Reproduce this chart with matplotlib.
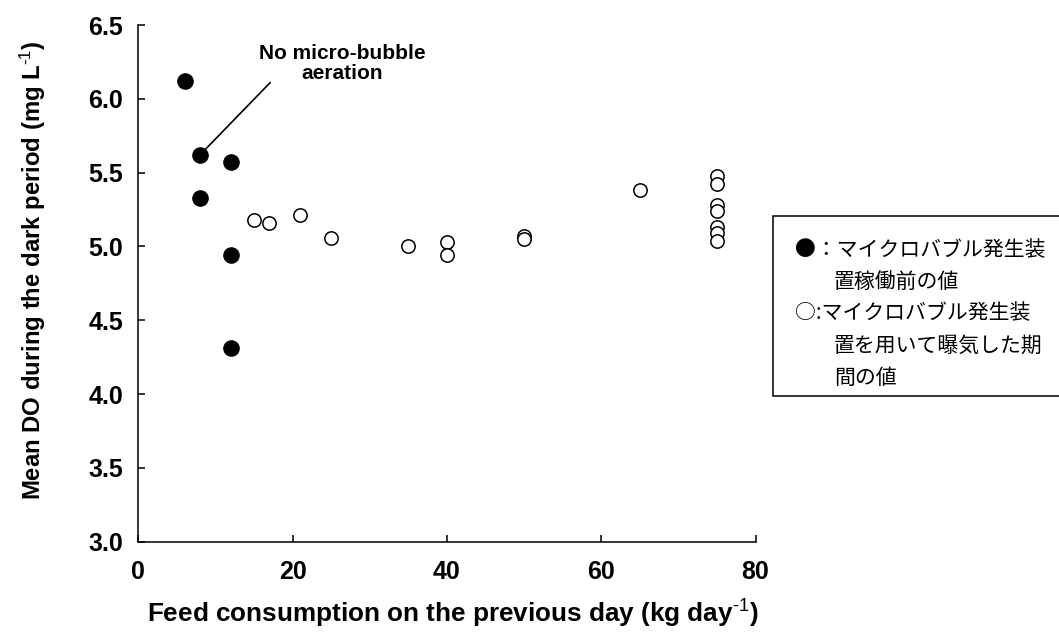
import matplotlib
matplotlib.use('Agg')
import matplotlib.pyplot as plt
from matplotlib.patches import Rectangle

# DO before micro-bubble aeration (filled) and during aeration (open)
before_feed = [6, 8, 8, 12, 12, 12]
before_do = [6.12, 5.62, 5.33, 5.57, 4.94, 4.31]

aerated_feed = [15, 17, 21, 25, 35, 40, 40, 50, 50, 65, 75, 75, 75, 75, 75, 75, 75]
aerated_do = [5.18, 5.16, 5.21, 5.06, 5.00, 5.03, 4.94, 5.07, 5.05, 5.38,
              5.48, 5.42, 5.28, 5.24, 5.13, 5.09, 5.04]

x_ticks = [0, 20, 40, 60, 80]
y_ticks = [3.0, 3.5, 4.0, 4.5, 5.0, 5.5, 6.0, 6.5]

# (indent, text) for each legend row
legend_lines = [
    (False, '●：マイクロバブル発生装'),
    (True, '置稼働前の値'),
    (False, '○:マイクロバブル発生装'),
    (True, '置を用いて曝気した期'),
    (True, '間の値'),
]

plt.rcParams['font.family'] = ['Liberation Sans', 'DejaVu Sans']
plt.rcParams['mathtext.fontset'] = 'custom'
plt.rcParams['mathtext.rm'] = 'Liberation Sans'
plt.rcParams['mathtext.default'] = 'rm'

fig = plt.figure(figsize=(10.59, 6.34), dpi=100)
ax = fig.add_axes([0.1305, 0.1455, 0.583, 0.815])

ax.scatter(before_feed, before_do, s=120, color='black', zorder=3, clip_on=False)
ax.scatter(aerated_feed, aerated_do, s=92, facecolor='white', edgecolor='black',
           linewidth=1.1, zorder=3, clip_on=False)

ax.set_xlim(0, 80)
ax.set_ylim(3.0, 6.5)
ax.set_xticks(x_ticks)
ax.set_yticks(y_ticks)
ax.set_yticklabels([f'{v:.1f}' for v in y_ticks])
for side in ['top', 'right']:
    ax.spines[side].set_visible(False)
for side in ['left', 'bottom']:
    ax.spines[side].set_linewidth(1.1)
ax.tick_params(axis='both', direction='in', length=5, width=1.1)
ax.tick_params(axis='x', pad=13, labelsize=18)
ax.tick_params(axis='y', pad=11, labelsize=18)
for lab in ax.get_xticklabels() + ax.get_yticklabels():
    lab.set_fontweight('bold')

ax.set_xlabel(r'Feed consumption on the previous day (kg day$^{\text{-1}}$)',
              fontsize=18.8, fontweight='bold')
ax.set_ylabel(r'Mean DO during the dark period (mg L$^{\text{-1}}$)',
              fontsize=17.2, fontweight='bold')
ax.xaxis.set_label_coords(0.51, -0.108)
ax.yaxis.set_label_coords(-0.146, 0.526)

# annotation for the no-aeration points
ax.annotate('', xy=(8, 5.62), xytext=(17.1, 6.11),
            arrowprops=dict(arrowstyle='-', lw=1.2, color='black', shrinkA=0, shrinkB=6))
ax.text(26.4, 6.24, 'No micro-bubble\naeration', ha='center', va='center',
        fontsize=15, fontweight='bold', linespacing=1.05)

# legend box on the right
fig.add_artist(Rectangle((0.730, 0.375), 0.28, 0.284, transform=fig.transFigure,
                         facecolor='white', edgecolor='black', linewidth=1.1, clip_on=False))
line_y = [250, 282, 313, 346, 378]
for (indent, txt), yy in zip(legend_lines, line_y):
    xx = 834 if indent else 795
    fig.text(xx / 1059, 1 - yy / 634, txt, ha='left', va='center', fontsize=15,
             family=['Noto Sans CJK JP', 'DejaVu Sans'])

fig.savefig('out.png', dpi=100)
